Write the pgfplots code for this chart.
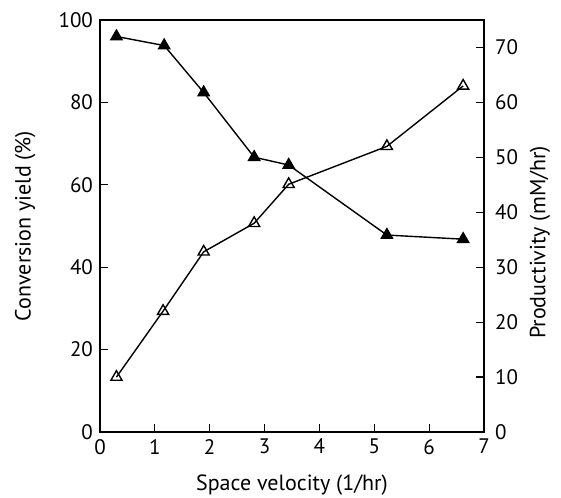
\documentclass[border=0pt]{standalone}
\usepackage{pgfplots}
\pgfplotsset{compat=1.18}
\usepackage{fontspec}
\setmainfont{PT Sans}

\pgfplotstableread{
x     yield
0.30  96.0
1.17  93.8
1.89  82.4
2.81  66.7
3.44  64.8
5.23  47.8
6.62  46.8
}\yieldtable

\pgfplotstableread{
x     prod
0.30  10.0
1.15  22.0
1.89  32.8
2.81  38.0
3.44  45.1
5.23  52.0
6.62  63.0
}\prodtable

\pgfplotsset{
  common/.style={
    width=192pt, height=206pt, scale only axis,
    at={(0,0)}, anchor=south west,
    xmin=0, xmax=7,
    tick align=inside,
    major tick length=4pt,
    tick label style={font=\fontsize{10.5}{12}\selectfont},
    label style={font=\fontsize{11}{13}\selectfont},
    /pgf/number format/assume math mode=true,
    axis line style={line width=0.6pt},
    every tick/.style={line width=0.6pt, black},
  }
}

\begin{document}
\begin{tikzpicture}
\useasboundingbox (-50pt,-32.5pt) rectangle (230.5pt,216pt);
\begin{axis}[
    common,
    ymin=0, ymax=100,
    xtick={0,1,...,7},
    ytick={0,20,...,100},
    xtick pos=bottom,
    ytick pos=left,
    xlabel={Space velocity (1/hr)},
    ylabel={Conversion yield (\%)},
    xlabel style={at={(axis description cs:0.5,-0.1286)}, anchor=center},
    ylabel style={at={(axis description cs:-0.195,0.5)}, anchor=center},
]
\addplot[black, line width=0.7pt, mark=triangle*, mark size=3.2pt] table[x=x, y=yield] {\yieldtable};
\end{axis}
\begin{axis}[
    common,
    ymin=0, ymax=75,
    ytick={0,10,...,70},
    axis x line=none,
    axis y line*=right,
    yticklabel style={xshift=2pt},
    ylabel={Productivity (mM/hr)},
    ylabel style={at={(axis description cs:1.146,0.46)}, anchor=center, rotate=0},
]
\addplot[black, line width=0.7pt, mark=triangle, mark size=3.2pt, mark options={line width=0.7pt}] table[x=x, y=prod] {\prodtable};
\end{axis}
\end{tikzpicture}
\end{document}
